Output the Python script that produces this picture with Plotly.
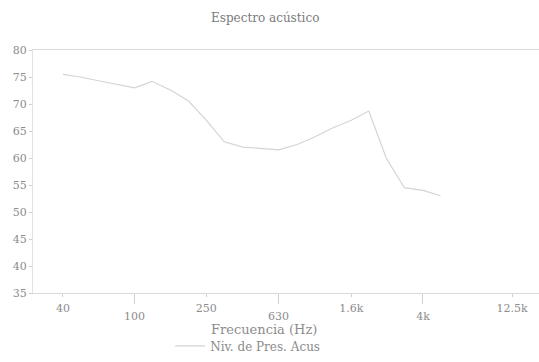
import plotly.graph_objects as go

# 1/3-octave band centre frequencies (Hz) and measured levels (dB)
freqs = [40, 50, 63, 80, 100, 125, 160, 200, 250, 315, 400, 500, 630, 800,
         1000, 1250, 1600, 2000, 2500, 3150, 4000, 5000]
levels = [75.5, 75.0, 74.3, 73.6, 73.0, 74.2, 72.5, 70.5, 67.0, 63.0, 62.0,
          61.8, 61.5, 62.5, 63.9, 65.5, 67.0, 68.7, 60.0, 54.5, 54.0, 53.0]

# staggered tick labels: upper row and lower row
upper_vals = [40, 250, 1600, 12500]
upper_text = ["40", "250", "1.6k", "12.5k"]
lower_vals = [100, 630, 4000]
lower_text = ["100", "630", "4k"]
y_ticks = [35, 40, 45, 50, 55, 60, 65, 70, 75, 80]

FONT = "DejaVu Serif"
TXT = "#8c8c8c"
X_RANGE = [1.4355, 4.2466]

fig = go.Figure()
fig.add_trace(go.Scatter(
    x=freqs, y=levels, mode="lines", name="Niv. de Pres. Acus",
    line=dict(color="#d4d4d4", width=1.2),
))
# empty helper trace so the lower-row tick axis is drawn
fig.add_trace(go.Scatter(x=[], y=[], xaxis="x2", yaxis="y",
                         showlegend=False, hoverinfo="skip"))

fig.update_layout(
    width=539, height=362,
    margin=dict(l=33, r=0, t=50, b=69),
    paper_bgcolor="white", plot_bgcolor="white",
    font=dict(family=FONT, color=TXT, size=11),
    title=dict(text="Espectro acústico", x=0.492, xanchor="center",
               y=1 - 18 / 362, yanchor="middle", yref="container",
               font=dict(family=FONT, size=12, color="#7a7a7a")),
    showlegend=True,
    legend=dict(orientation="h", x=0.271, xanchor="left", y=-0.218,
                yanchor="middle", font=dict(family=FONT, size=12, color=TXT),
                bgcolor="rgba(0,0,0,0)"),
    annotations=[dict(text="Frecuencia (Hz)", xref="paper", yref="paper",
                      x=0.457, y=-0.152, xanchor="center", yanchor="middle",
                      showarrow=False, font=dict(family=FONT, size=13, color=TXT))],
    xaxis=dict(
        type="log", range=X_RANGE,
        tickvals=upper_vals, ticktext=upper_text,
        showgrid=False, zeroline=False,
        showline=True, linecolor="#dadada", linewidth=1, mirror=True,
        ticks="outside", ticklen=3, tickcolor="#d0d0d0",
        ticklabelstandoff=2,
        tickfont=dict(family=FONT, size=11, color=TXT),
    ),
    xaxis2=dict(
        type="log", range=X_RANGE, overlaying="x", anchor="y", side="bottom",
        tickvals=lower_vals, ticktext=lower_text,
        showgrid=False, zeroline=False, showline=False,
        ticks="outside", ticklen=10, tickcolor="#d0d0d0",
        ticklabelstandoff=3,
        tickfont=dict(family=FONT, size=11, color=TXT),
    ),
    yaxis=dict(
        range=[35, 80], tickvals=y_ticks,
        showgrid=False, zeroline=False,
        showline=True, linecolor="#e2e2e2", linewidth=1,
        ticks="outside", ticklen=3, tickcolor="#d0d0d0",
        tickfont=dict(family=FONT, size=11, color=TXT),
    ),
)

fig.write_html("out.html")
